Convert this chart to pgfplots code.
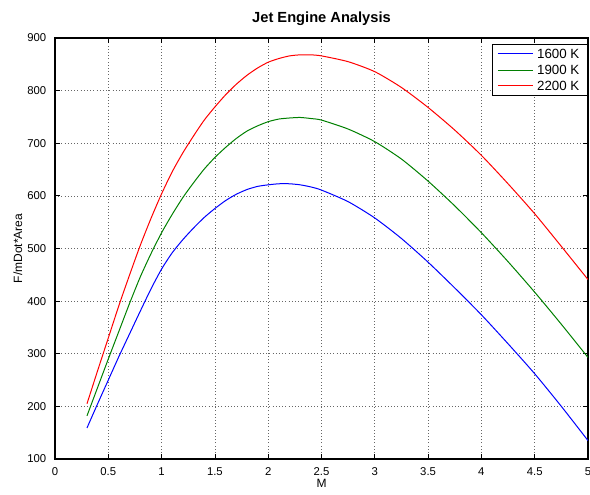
\documentclass[border=0pt]{standalone}
\usepackage{fontspec}
\setmainfont{Liberation Sans}
\usepackage{pgfplots}
\pgfplotsset{compat=1.18}

\definecolor{mblue}{RGB}{0,0,255}
\definecolor{mgreen}{RGB}{0,128,0}
\definecolor{mred}{RGB}{255,0,0}
% swatch colours kept one step off the curve colours, so the driver emits them again
\definecolor{lblue}{RGB}{1,1,254}
\definecolor{lgreen}{RGB}{1,127,1}
\definecolor{lred}{RGB}{254,1,1}

\begin{document}
\begin{tikzpicture}
\begin{axis}[
  at={(41.25pt,26.25pt)}, anchor=south west,
  scale only axis,
  width=399.75pt, height=315.75pt,
  xmin=0, xmax=5, ymin=100, ymax=900,
  xtick={0,0.5,...,5}, ytick={100,200,...,900},
  tick align=inside,
  major tick length=4pt,
  grid=major,
  major grid style={dotted, black!60, line width=0.5pt},
  axis line style={black, line width=0.8pt},
  every tick/.style={black, line width=0.6pt},
  /pgf/number format/assume math mode=true,
  tick label style={font=\fontsize{8.5}{10}\selectfont},
  xticklabel style={yshift=-3pt},
  yticklabel style={xshift=-3pt},
  xlabel={M},
  ylabel={F/mDot*Area},
  label style={font=\fontsize{9}{11}\selectfont},
  xlabel style={yshift=4pt},
  ylabel style={yshift=-3pt},
  title={Jet Engine Analysis},
  title style={font=\bfseries\fontsize{11}{13}\selectfont, yshift=0pt},
  every axis plot/.append style={line width=0.75pt, smooth, tension=0.4},
]
\addplot[color=mblue] coordinates {
(0.3,159)(0.4,205)(0.5,250)(0.6,295)(0.7,338)(0.8,381)(0.9,423)(1.0,461)
(1.1,492)(1.2,517)(1.3,539)(1.4,559)(1.5,576)(1.6,591)(1.7,603)(1.8,612)
(1.9,618)(2.0,621)(2.1,623)(2.2,623)(2.3,621)(2.4,617)(2.5,611)(2.75,589)
(3.0,558)(3.25,519)(3.5,474)(3.75,425)(4.0,374)(4.25,319)(4.5,262)(4.75,200)(5.0,135)};
\addplot[color=mgreen] coordinates {
(0.3,182)(0.4,236)(0.5,290)(0.6,343)(0.7,396)(0.8,446)(0.9,490)(1.0,530)
(1.1,565)(1.2,597)(1.3,625)(1.4,651)(1.5,673)(1.6,692)(1.7,709)(1.8,723)
(1.9,733)(2.0,741)(2.1,746)(2.2,748)(2.3,749)(2.4,747)(2.5,744)(2.75,727)
(3.0,703)(3.25,670)(3.5,628)(3.75,581)(4.0,530)(4.25,475)(4.5,417)(4.75,356)(5.0,293)};
\addplot[color=mred] coordinates {
(0.3,205)(0.4,268)(0.5,330)(0.6,392)(0.7,450)(0.8,506)(0.9,557)(1.0,604)
(1.1,646)(1.2,682)(1.3,714)(1.4,744)(1.5,769)(1.6,792)(1.7,812)(1.8,829)
(1.9,843)(2.0,854)(2.1,861)(2.2,866)(2.3,868)(2.4,868)(2.5,866)(2.75,855)
(3.0,836)(3.25,806)(3.5,768)(3.75,725)(4.0,677)(4.25,623)(4.5,566)(4.75,504)(5.0,441)};
% legend box, drawn by hand
\filldraw[fill=white, draw=black, line width=0.6pt]
  (rel axis cs:0.820,0.8646) rectangle (rel axis cs:0.9981,0.9857);
\draw[draw=lred, line width=0.75pt] (rel axis cs:0.831,0.8867) -- (rel axis cs:0.897,0.8867);
\draw[draw=lgreen, line width=0.75pt] (rel axis cs:0.831,0.9233) -- (rel axis cs:0.897,0.9233);
\draw[draw=lblue, line width=0.75pt] (rel axis cs:0.831,0.9620) -- (rel axis cs:0.897,0.9620);
\node[anchor=west, inner sep=0pt, font=\fontsize{10}{12}\selectfont] at (rel axis cs:0.904,0.9620) {1600 K};
\node[anchor=west, inner sep=0pt, font=\fontsize{10}{12}\selectfont] at (rel axis cs:0.904,0.9233) {1900 K};
\node[anchor=west, inner sep=0pt, font=\fontsize{10}{12}\selectfont] at (rel axis cs:0.904,0.8867) {2200 K};
\end{axis}
\pgfresetboundingbox
\path[use as bounding box] (0pt,0pt) rectangle (442.5pt,370.5pt);
\end{tikzpicture}
\end{document}
